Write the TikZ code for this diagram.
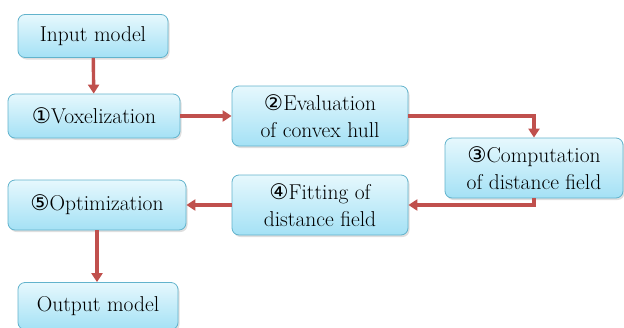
\documentclass[tikz,border=0pt]{standalone}
\usepackage{fontspec}
\newfontfamily\circfont{DejaVu Sans}
\usetikzlibrary{arrows.meta,shadows}

\definecolor{boxtop}{HTML}{E6F8FD}
\definecolor{boxbot}{HTML}{A4E1F5}
\definecolor{boxline}{HTML}{62B3CC}
\definecolor{linkred}{HTML}{C0504D}

\newcommand{\stepno}[1]{{\circfont #1}}

\begin{document}
\begin{tikzpicture}[x=1pt,y=-1pt,
	>={Triangle[length=9pt,width=11pt]},
	box/.style={draw=boxline,line width=0.8pt,rounded corners=7pt,
		top color=boxtop,bottom color=boxbot,align=center,inner sep=0pt,
		font=\fontsize{21.5}{27}\selectfont,
		drop shadow={opacity=0.25,shadow xshift=1.5pt,shadow yshift=-2pt}},
	link/.style={->,draw=linkred,line width=3.4pt}]
	
	\useasboundingbox (0,0) rectangle (624,327);
	
	% left column
	\node [box,minimum width=150,minimum height=43] (input) at (93,36) {Input model};
	\node [box,minimum width=172,minimum height=44] (vox) at (94,116) {\stepno{①}Voxelization};
	\node [box,minimum width=178,minimum height=50] (opt) at (97,205) {\stepno{⑤}Optimization};
	\node [box,minimum width=160,minimum height=47] (output) at (98,306) {Output model};
	
	% middle and right
	\node [box,minimum width=176,minimum height=60] (eval) at (320,116) {\stepno{②}Evaluation\\of convex hull};
	\node [box,minimum width=178,minimum height=60] (comp) at (534,168) {\stepno{③}Computation\\of distance field};
	\node [box,minimum width=176,minimum height=60] (fit) at (320,205) {\stepno{④}Fitting of\\distance field};
	
	\draw [link] (input) -- (vox);
	\draw [link] (vox) -- (eval);
	\draw [link] (eval.east) -| (comp.north);
	\draw [link] (comp.south) |- (fit.east);
	\draw [link] (fit) -- (opt);
	\draw [link] (opt) -- (opt |- output.north);
	
\end{tikzpicture}
\end{document}
